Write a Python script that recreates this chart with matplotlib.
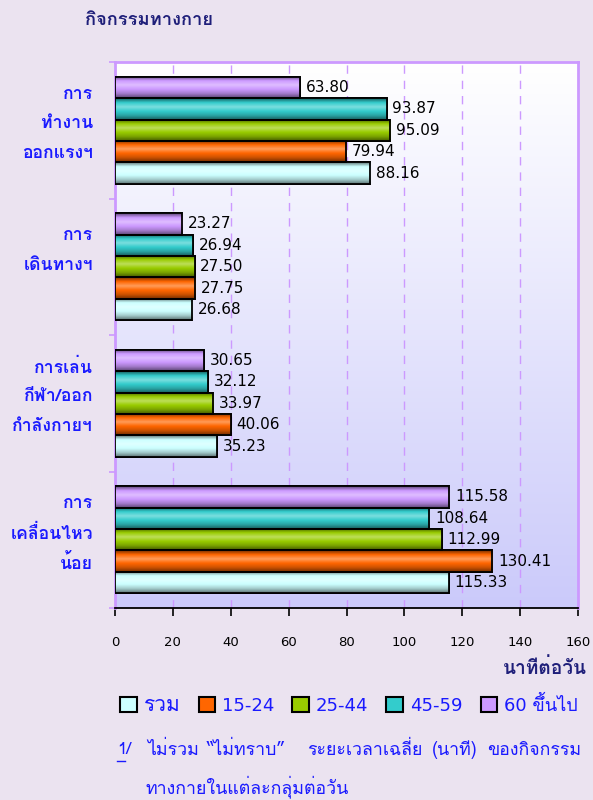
import numpy as np
import matplotlib
matplotlib.use("Agg")
import matplotlib.pyplot as plt
from matplotlib import font_manager
from matplotlib.colors import LinearSegmentedColormap, to_rgb
from matplotlib.patches import Patch
from matplotlib.lines import Line2D

# pick a font that has Thai glyphs, if there is one
thaiNames = ["Thai", "Tahoma", "Loma", "Garuda", "Norasi", "Sarabun", "Kinnari",
             "Waree", "Umpush", "Laksaman", "Sawasdee", "Purisa", "Kanit", "Prompt"]
fams = []
for f in font_manager.fontManager.ttflist:
    for n in thaiNames:
        if n.lower() in f.name.lower() and f.name not in fams:
            fams.append(f.name)
plt.rcParams['font.family'] = fams + ['DejaVu Sans']
numFont = 'DejaVu Sans'

groups = [["การ", "ทำงาน", "ออกแรงฯ"], ["การ", "เดินทางฯ"],
          ["การเล่น", "กีฬา/ออก", "กำลังกายฯ"], ["การ", "เคลื่อนไหว", "น้อย"]]
series = ["รวม", "15-24", "25-44", "45-59", "60 ขึ้นไป"]
total = [88.16, 26.68, 35.23, 115.33]
age15_24 = [79.94, 27.75, 40.06, 130.41]
age25_44 = [95.09, 27.50, 33.97, 112.99]
age45_59 = [93.87, 26.94, 32.12, 108.64]
age60 = [63.80, 23.27, 30.65, 115.58]
values = [total, age15_24, age25_44, age45_59, age60]
colors = ["#ccffff", "#ff6600", "#99cc00", "#33cccc", "#cc99ff"]
xticks = [0, 20, 40, 60, 80, 100, 120, 140, 160]
noteWords = ["ไม่รวม", "“ไม่ทราบ”", "ระยะเวลาเฉลี่ย", "(นาที)", "ของกิจกรรม"]
noteWordX = [147, 207, 307, 432, 487]
noteLine2 = "ทางกายในแต่ละกลุ่มต่อวัน"

bg = "#ebe3f0"
blue = "#1a1aff"
navy = "#1f1f7a"

fig = plt.figure(figsize=(5.93, 8.0), dpi=100, facecolor=bg)
ax = fig.add_axes([115/593, 1-608/800, 463/593, 546/800])

# plot background gradient
grad = np.linspace(0, 1, 256).reshape(-1, 1)
bgmap = LinearSegmentedColormap.from_list("bg", ["#cbcafa", "#ffffff"])
ax.imshow(grad, cmap=bgmap, aspect="auto", extent=[0, 1, 0, 1],
          transform=ax.transAxes, origin="lower", zorder=0)

nG = len(groups)
h = 0.157
for i, vals in enumerate(values):
    # series 0 is the bottom bar in each group
    ys = [nG - 1 - g - 2*h + h*i for g in range(nG)]
    bars = ax.barh(ys, vals, height=h, color=colors[i], edgecolor="black",
                   linewidth=1.3, zorder=3)
    c = np.array(to_rgb(colors[i]))
    dark = c * 0.45
    light = np.minimum(c + (1 - c) * 0.35, 1)
    cm = LinearSegmentedColormap.from_list("b%d" % i, [dark, c * 0.8, c, light, c, dark])
    for b, v in zip(bars, vals):
        y0 = b.get_y()
        im = ax.imshow(np.linspace(0, 1, 64).reshape(-1, 1), cmap=cm, aspect="auto",
                       extent=[0, v, y0, y0 + h], origin="lower", zorder=3.5)
        im.set_clip_path(b)
        ax.add_patch(plt.Rectangle((0, y0), v, h, fill=False, edgecolor="black",
                                   linewidth=1.3, zorder=4))
        ax.text(v + 2, y0 + h/2, "%.2f" % v, va="center", ha="left", family=numFont,
                fontsize=11, color="black", zorder=5)

ax.set_xlim(0, 160)
ax.set_ylim(-0.5, nG - 0.5)
ax.set_xticks(xticks)
ax.set_xticklabels([str(t) for t in xticks], fontsize=9.5, family=numFont)
ax.tick_params(axis="x", direction="out", length=6, width=1.2, pad=14, colors="black")
ax.set_yticks([g - 0.5 for g in range(nG + 1)])
ax.set_yticklabels([])
ax.tick_params(axis="y", direction="out", length=4, width=1.2, colors="#cc99ff")
for t in xticks[1:-1]:
    ax.axvline(t, color="#cc99ff", linestyle=(0, (6, 5)), linewidth=1, zorder=1)

for s in ["top", "left", "right"]:
    ax.spines[s].set_color("#cc99ff")
    ax.spines[s].set_linewidth(2)
ax.spines["bottom"].set_color("black")
ax.spines["bottom"].set_linewidth(1.3)

# category labels, one text per line so tall Thai marks don't stretch the spacing
fig.canvas.draw()
for g, lines in enumerate(groups):
    yc = ax.transData.transform((0, nG - 1 - g))[1] + (8 if len(lines) == 3 else 18)
    n = len(lines)
    for k, line in enumerate(lines):
        y = yc + ((n - 1) / 2 - k) * 29.5
        fig.text(93/593, y / 800, line, ha="right", va="center_baseline", color=blue,
                 fontsize=12.7, fontweight="bold")

fig.text(85/593, 1 - 20/800, "กิจกรรมทางกาย", ha="left", va="center",
         color=navy, fontsize=13.2, fontweight="bold")
fig.text(587/593, 1 - 668/800, "นาทีต่อวัน", ha="right", va="center",
         color=navy, fontsize=13.8, fontweight="bold")

handles = [Patch(facecolor=colors[i], edgecolor="black", linewidth=1.5) for i in range(5)]
leg = fig.legend(handles, series, loc="center", bbox_to_anchor=(349/593, 1 - 705/800),
                 ncol=5, frameon=False, fontsize=13, handlelength=0.9, handleheight=0.9,
                 handletextpad=0.4, columnspacing=1.0)
for t in leg.get_texts():
    t.set_color(blue)
    if t.get_text()[0].isdigit():
        t.set_family([numFont] + fams)
    if t.get_text() in ("รวม",):
        t.set_fontsize(15)

fig.text(117/593, 1 - 750/800, "1/", ha="left", va="center", color=blue, fontsize=12)
fig.add_artist(Line2D([117/593, 125/593], [1 - 761/800, 1 - 761/800], color=blue, linewidth=1))
for w, x in zip(noteWords, noteWordX):
    fig.text(x/593, 1 - 750/800, w, ha="left", va="center", color=blue, fontsize=12.8)
fig.text(146/593, 1 - 787/800, noteLine2,
         ha="left", va="center", color=blue, fontsize=12.8)

fig.savefig("out.png", dpi=100, facecolor=bg)
